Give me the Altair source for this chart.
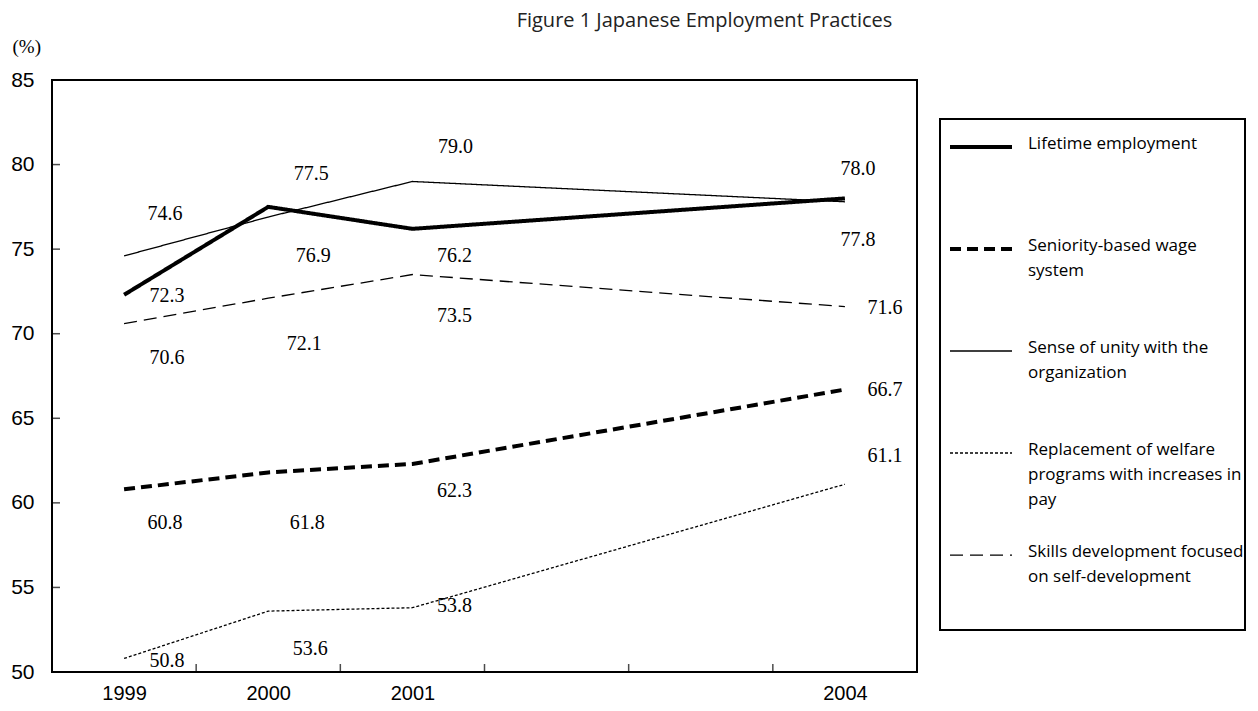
import altair as alt
import pandas as pd

YEARS = [1999, 2000, 2001, 2004]
SERIES = [
    "Lifetime employment",
    "Seniority-based wage system",
    "Sense of unity with the organization",
    "Replacement of welfare programs with increases in pay",
    "Skills development focused on self-development",
]
LIFETIME = [72.3, 77.5, 76.2, 78.0]
SENIORITY = [60.8, 61.8, 62.3, 66.7]
UNITY = [74.6, 76.9, 79.0, 77.8]
WELFARE = [50.8, 53.6, 53.8, 61.1]
SKILLS = [70.6, 72.1, 73.5, 71.6]
VALUES = [LIFETIME, SENIORITY, UNITY, WELFARE, SKILLS]

LEGEND_LINES = [
    ["Lifetime employment"],
    ["Seniority-based wage", "system"],
    ["Sense of unity with the", "organization"],
    ["Replacement of welfare", "programs with increases in", "pay"],
    ["Skills development focused", "on self-development"],
]

Y_LABELS = [50, 55, 60, 65, 70, 75, 80, 85]
Y_TICKS = [55, 60, 65, 70, 75, 80]
X_TICKS = [1999.5, 2000.5, 2001.5, 2002.5, 2003.5]

# label placement offsets (pixels), per series, per year
LABEL_DX = [[43, 43, 42, 13], [41, 39, 42, 40], [41, 45, 43, 13], [43, 42, 42, 40], [43, 36, 42, 40]]
LABEL_DY = [[1, -33, 27, -29], [34, 51, 27, 0], [-42, 39, -34, 38], [3, 38, -2, -28], [34, 46, 41, 1]]

DASHES = [[1, 0], [11, 6], [1, 0], [3, 2], [13, 7]]
WIDTHS = [4, 4, 1.3, 1.3, 1.3]

rows = []
for si, s in enumerate(SERIES):
    for i, yr in enumerate(YEARS):
        rows.append({"series": s, "year": yr, "value": VALUES[si][i],
                     "dx": LABEL_DX[si][i], "dy": LABEL_DY[si][i]})
df = pd.DataFrame(rows)

x_scale = alt.Scale(domain=[1998.5, 2004.5], nice=False, zero=False)
y_scale = alt.Scale(domain=[50, 85], nice=False, zero=False)
dash_scale = alt.Scale(type="ordinal", domain=SERIES, range=DASHES)
width_scale = alt.Scale(type="ordinal", domain=SERIES, range=WIDTHS)

AXIS_FONT = "Liberation Sans"

x_axis = alt.Axis(values=YEARS, format="d", ticks=False, domain=False, grid=False,
                  labelFont=AXIS_FONT, labelFontSize=20, labelPadding=11,
                  labelColor="black", labelFlush=False, title=None)
y_axis = alt.Axis(values=Y_LABELS, ticks=False, domain=False, grid=False,
                  labelFont=AXIS_FONT, labelFontSize=21, labelPadding=18,
                  labelColor="black", labelFlush=False,
                  title="(%)", titleAngle=0, titleX=-40, titleY=-43,
                  titleAlign="left", titleBaseline="top",
                  titleFont="Liberation Serif", titleFontSize=19,
                  titleFontWeight="normal", titleColor="black")

lines = alt.Chart(df).mark_line(color="black", strokeJoin="miter").encode(
    x=alt.X("year:Q", scale=x_scale, axis=x_axis),
    y=alt.Y("value:Q", scale=y_scale, axis=y_axis),
    detail="series:N",
    strokeDash=alt.StrokeDash("series:N", scale=dash_scale, legend=None),
    strokeWidth=alt.StrokeWidth("series:N", scale=width_scale, legend=None),
)

labels = alt.Chart(df).mark_text(font="Liberation Serif", fontSize=20, color="black",
                                 align="center", baseline="middle",
                                 dx=alt.expr("datum.dx"), dy=alt.expr("datum.dy")).encode(
    x=alt.X("year:Q", scale=x_scale, axis=x_axis),
    y=alt.Y("value:Q", scale=y_scale, axis=y_axis),
    text=alt.Text("value:Q", format=".1f"),
)

xt = alt.Chart(pd.DataFrame({"year": X_TICKS})).mark_tick(
    color="black", thickness=1.5, size=8, orient="vertical").encode(
    x=alt.X("year:Q", scale=x_scale, axis=x_axis),
    y=alt.value(588),
)
yt = alt.Chart(pd.DataFrame({"value": Y_TICKS})).mark_tick(
    color="black", thickness=1.5, size=8, orient="horizontal").encode(
    y=alt.Y("value:Q", scale=y_scale, axis=y_axis),
    x=alt.value(4),
)

main = alt.layer(lines, labels, xt, yt).properties(
    width=865, height=592,
    title=alt.TitleParams("Figure 1 Japanese Employment Practices", font="Open Sans",
                          fontSize=20, fontWeight="normal", color="#222222",
                          anchor="middle", dx=220, offset=6),
    view=alt.ViewBackground(stroke="black", strokeWidth=2),
)

leg_df = pd.DataFrame({"series": SERIES, "idx": list(range(len(SERIES))),
                       "lines": LEGEND_LINES})
leg_y = alt.Scale(domain=[-0.2745, 4.735], reverse=True, nice=False, zero=False)

leg_rules = alt.Chart(leg_df).mark_rule(color="black").encode(
    x=alt.value(10), x2=alt.value(72),
    y=alt.Y("idx:Q", scale=leg_y, axis=None),
    strokeDash=alt.StrokeDash("series:N", scale=dash_scale, legend=None),
    strokeWidth=alt.StrokeWidth("series:N", scale=width_scale, legend=None),
)
leg_text = alt.Chart(leg_df).mark_text(align="left", baseline="top", dy=-11,
                                       font="Open Sans", fontSize=17, lineHeight=25,
                                       color="black").encode(
    x=alt.value(88),
    y=alt.Y("idx:Q", scale=leg_y, axis=None),
    text="lines",
)
legend = alt.layer(leg_rules, leg_text).properties(
    width=305, height=511,
    view=alt.ViewBackground(stroke="black", strokeWidth=2),
)

spacer = alt.Chart(pd.DataFrame({"a": [0]})).mark_point(opacity=0).encode(
    x=alt.X("a:Q", axis=None), y=alt.Y("a:Q", axis=None)
).properties(width=305, height=39, view=alt.ViewBackground(stroke=None))

right = alt.vconcat(spacer, legend, spacing=0, bounds="flush")

chart = alt.hconcat(main, right, spacing=23, bounds="flush").properties(
    padding={"left": 1, "top": 2, "right": 0, "bottom": 0},
    background="white",
)

chart.save("out.html", embed_options={"renderer": "svg", "actions": False})
